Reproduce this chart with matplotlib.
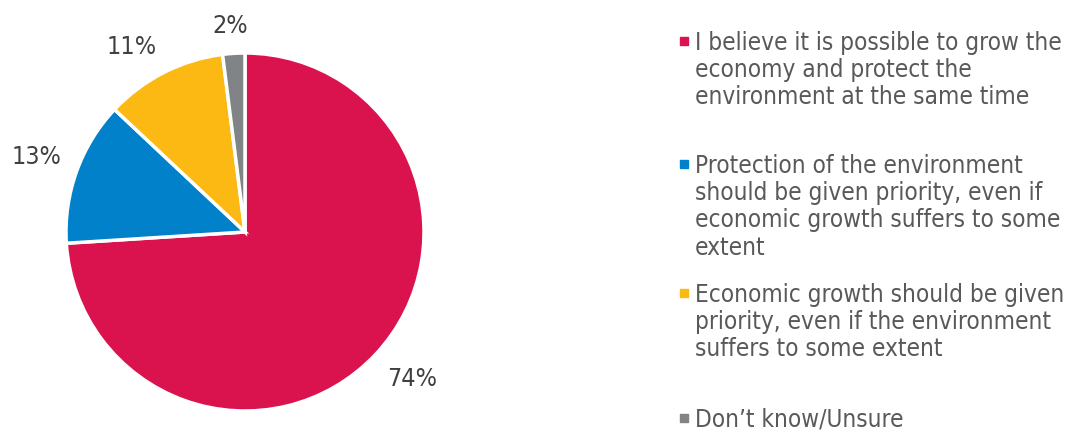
import matplotlib

matplotlib.use("Agg")
import matplotlib.pyplot as plt
import numpy as np
from matplotlib.patches import Rectangle
from matplotlib.transforms import offset_copy

# survey shares, drawn clockwise from 12 o'clock
categories = [
    "I believe it is possible to grow the\neconomy and protect the\nenvironment at the same time",
    "Protection of the environment\nshould be given priority, even if\neconomic growth suffers to some\nextent",
    "Economic growth should be given\npriority, even if the environment\nsuffers to some extent",
    "Don\u2019t know/Unsure",
]
shares = [74, 13, 11, 2]
colors = ["#DA134E", "#0081C9", "#FDB913", "#818486"]

W, H = 1069, 431
fig = plt.figure(figsize=(W / 100, H / 100), dpi=100)

cx, cy, r = 245, 233, 179
ax = fig.add_axes([(cx - r) / W, (H - cy - r) / H, 2 * r / W, 2 * r / H])
wedges, _ = ax.pie(
    shares,
    colors=colors,
    startangle=90,
    counterclock=False,
    radius=1.0,
    wedgeprops=dict(edgecolor="white", linewidth=2.5),
)
ax.set_xlim(-1, 1)
ax.set_ylim(-1, 1)
ax.set_aspect("equal")
ax.axis("off")

# percentage labels sit just outside the rim, pushed away along the mid-angle
labels = []
for w, v in zip(wedges, shares):
    mid = np.deg2rad((w.theta1 + w.theta2) / 2)
    t = ax.text(1.09 * np.cos(mid), 1.09 * np.sin(mid), f"{v}%",
                ha="center", va="center", fontsize=18, color="#404040",
                family="DejaVu Sans", fontstretch="condensed")
    labels.append((t, mid))
fig.canvas.draw()
renderer = fig.canvas.get_renderer()
for t, mid in labels:
    bb = t.get_window_extent(renderer)
    ox = bb.width / 2 * np.clip(np.cos(mid) * 2.5, -1, 1)
    oy = bb.height / 2 * np.clip(np.sin(mid) * 2.5, -1, 1)
    t.set_transform(offset_copy(ax.transData, fig=fig, x=ox, y=oy, units="dots"))

# legend, one block per category
tops = [31, 154, 283, 408]
for label, col, y in zip(categories, colors, tops):
    fig.patches.append(Rectangle((680 / W, (H - y - 15) / H), 8 / W, 8 / H,
                                 transform=fig.transFigure, color=col))
    fig.text(695 / W, (H - y) / H, label, fontsize=17.5, color="#595959",
             family="DejaVu Sans", fontstretch="condensed", va="top", ha="left",
             linespacing=1.17, transform=fig.transFigure)

fig.savefig("out.png", dpi=100)
